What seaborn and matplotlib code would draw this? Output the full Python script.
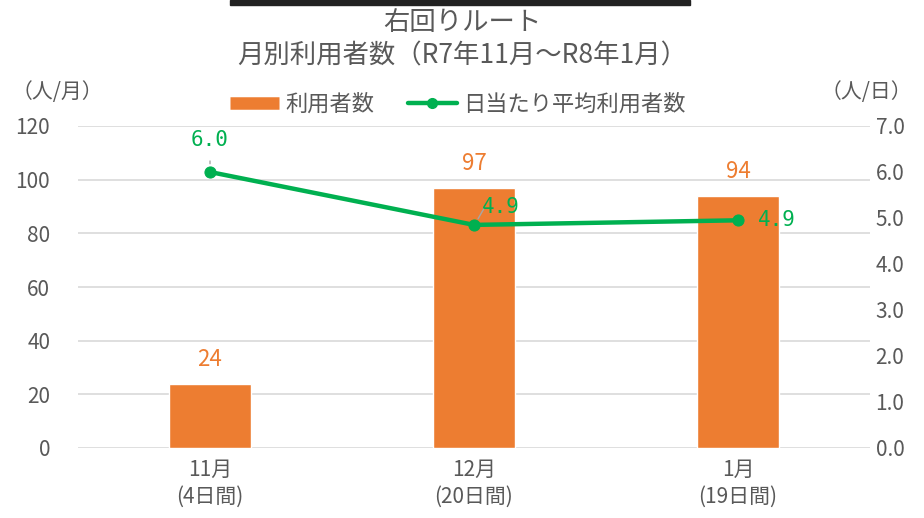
import numpy as np
import pandas as pd
import matplotlib
matplotlib.use("Agg")
import matplotlib.pyplot as plt
from matplotlib.lines import Line2D
from matplotlib.patches import Rectangle
import seaborn as sns

# data
months = ["11月\n(4日間)", "12月\n(20日間)", "1月\n(19日間)"]
users = [24, 97, 94]
daily_avg = [6.0, 4.85, 4.95]
daily_labels = ["6.0", "4.9", "4.9"]
left_ticks = [0, 20, 40, 60, 80, 100, 120]
right_ticks = [0.0, 1.0, 2.0, 3.0, 4.0, 5.0, 6.0, 7.0]

ORANGE = "#ED7D31"
GREEN = "#00B050"
GREY = "#595959"

sns.set_theme(style="white")
plt.rcParams["font.family"] = ["Noto Sans CJK JP", "DejaVu Sans"]

df = pd.DataFrame({"month": months, "users": users, "daily": daily_avg})

fig = plt.figure(figsize=(9.24, 5.18), dpi=100)
ax = fig.add_axes([78 / 924, 1 - 448 / 518, 792 / 924, 322 / 518])

sns.barplot(data=df, x="month", y="users", color=ORANGE, width=0.31,
            saturation=1, ax=ax, zorder=2)
ax.set_ylim(0, 120)
ax.set_xlim(-0.5, 2.5)
ax.set_yticks(left_ticks)
ax.grid(axis="y", color="#D9D9D9", lw=1.2, zorder=0)
ax.set_axisbelow(True)
ax.set_xlabel("")
ax.set_ylabel("")
ax.tick_params(axis="y", length=0, pad=20, labelsize=15, labelcolor=GREY)
ax.tick_params(axis="x", length=0, pad=8, labelsize=15, labelcolor=GREY)
for lbl in ax.get_xticklabels():
    lbl.set_linespacing(1.25)
for s in ax.spines.values():
    s.set_visible(False)

for i, v in enumerate(users):
    ax.annotate(str(v), (i, v), xytext=(0, 9), textcoords="offset points",
                ha="center", va="bottom", color=ORANGE, fontsize=16)

ax2 = ax.twinx()
sns.lineplot(x=np.arange(len(daily_avg)), y=daily_avg, color=GREEN, lw=3.2,
             marker="o", markersize=8, markeredgecolor=GREEN, ax=ax2, zorder=3)
ax2.set_ylim(0, 7)
ax2.set_yticks(right_ticks)
ax2.set_yticklabels([f"{t:.1f}" for t in right_ticks])
ax2.tick_params(axis="y", length=0, pad=4, labelsize=15, labelcolor=GREY)
ax2.set_ylabel("")
for s in ax2.spines.values():
    s.set_visible(False)

# line labels with small leader lines
lab_off = [(0, 16), (6, 13), (14, 0)]
for i, (v, t) in enumerate(zip(daily_avg, daily_labels)):
    dx, dy = lab_off[i]
    ax2.annotate(t, (i, v), xytext=(dx, dy), textcoords="offset points",
                 ha="center" if i == 0 else "left", va="bottom" if i == 0 else "center",
                 color=GREEN, fontsize=15, family=["DejaVu Sans Mono"])
ax2.annotate("", (0, daily_avg[0] + 0.12), xytext=(0, daily_avg[0] + 0.3),
             arrowprops=dict(arrowstyle="-", color="#A6A6A6", lw=1))
ax2.annotate("", (1.01, daily_avg[1] + 0.08), xytext=(1.045, daily_avg[1] + 0.38),
             arrowprops=dict(arrowstyle="-", color="#A6A6A6", lw=1,
                             connectionstyle="angle,angleA=0,angleB=60,rad=0"))

# title and unit labels
fig.text(0.5, 1 - 22 / 518, "右回りルート", ha="center", va="center",
         fontsize=19, color=GREY)
fig.text(0.5, 1 - 56 / 518, "月別利用者数（R7年11月～R8年1月）", ha="center",
         va="center", fontsize=19, color=GREY)
fig.text(12 / 924, 1 - 92 / 518, "（人/月）", ha="left", va="center",
         fontsize=15, color=GREY)
fig.text(912 / 924, 1 - 92 / 518, "（人/日）", ha="right", va="center",
         fontsize=15, color=GREY)

handles = [Line2D([0], [0], color=ORANGE, lw=9, solid_capstyle="butt"),
           Line2D([0], [0], color=GREEN, lw=3.2, marker="o", markersize=7)]
fig.legend(handles, ["利用者数", "日当たり平均利用者数"], loc="center",
           bbox_to_anchor=(458 / 924, 1 - 104 / 518), ncol=2, frameon=False,
           fontsize=16, labelcolor=GREY, handlelength=2.2, handletextpad=0.3,
           columnspacing=1.5)

# cropped black frame edge at the very top
fig.patches.append(Rectangle((230 / 924, 1 - 5 / 518), 460 / 924, 5 / 518,
                             transform=fig.transFigure, color="#222222"))

fig.savefig("out.png", dpi=100)
